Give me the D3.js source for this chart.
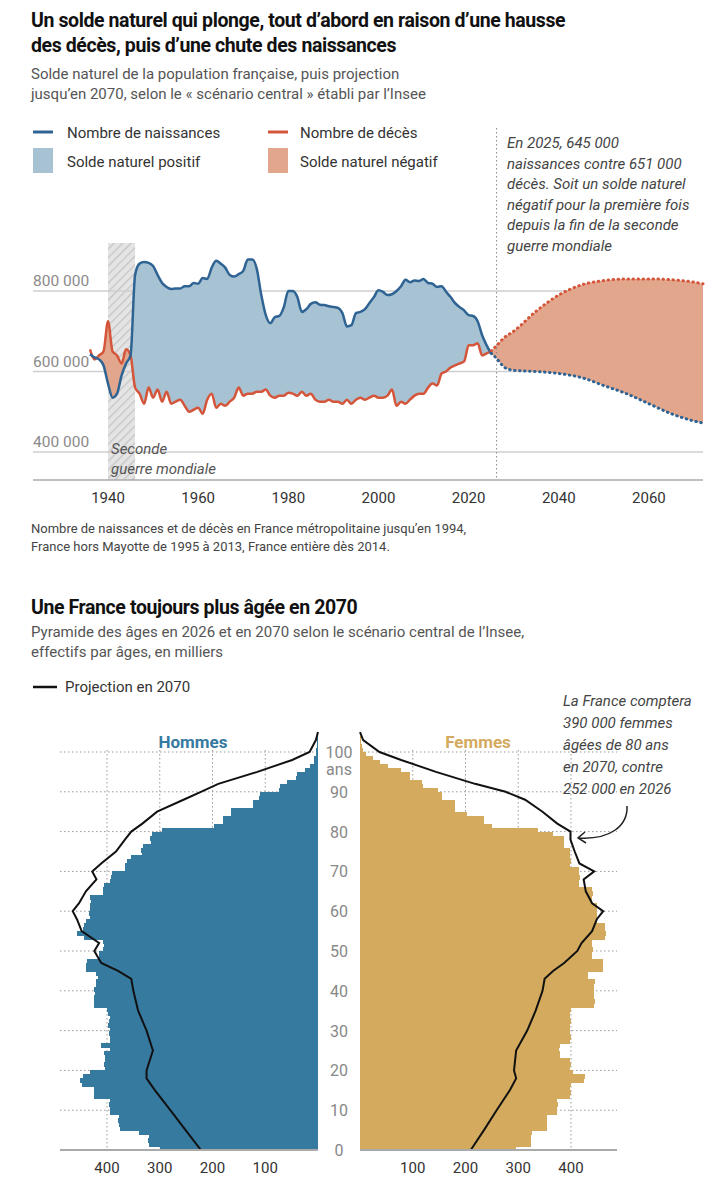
<!DOCTYPE html>
<html><head><meta charset="utf-8">
<script src="https://cdn.jsdelivr.net/npm/d3@7"></script>
<style>body{margin:0;background:#fff}svg{font-family:Roboto,"Noto Sans",sans-serif}</style>
</head><body><svg id="c" width="725" height="1200"></svg>
<script>
// ---------- Chart 1 data (thousands) ----------
const years = d3.range(1936, 2026);
const births = [643,635,630,615,570,535,545,590,620,640,840,868,872,870,862,840,820,810,805,806,806,812,812,820,818,832,830,858,875,868,858,840,836,842,850,878,878,855,790,740,720,735,738,760,800,800,785,748,755,768,772,766,765,762,760,758,745,712,715,745,748,755,770,785,802,798,790,792,800,812,828,822,826,825,830,820,818,810,812,798,785,770,760,752,740,738,725,690,665,645];
const deaths = [655,630,640,650,725,650,640,620,655,640,560,545,520,560,535,555,525,550,520,525,530,515,500,505,510,495,530,545,510,520,515,525,535,560,540,545,545,550,550,555,540,535,540,540,547,545,540,550,540,545,530,525,525,530,525,525,520,530,520,530,535,530,535,540,535,535,540,555,515,525,520,530,540,545,545,560,570,565,595,600,610,615,620,625,665,665,670,640,645,651];
const projYears = [2025,2026,2028,2030,2035,2040,2045,2050,2055,2060,2065,2070,2072];
const projBirths = [645,635,610,603,600,595,585,565,545,520,495,477,472];
const projDeaths = [651,662,685,700,750,790,815,826,830,830,828,822,818];
const yTicks1 = [400,600,800];
const xTicks1 = [1940,1960,1980,2000,2020,2040,2060];

// ---------- Pyramid data (thousands) ----------
const ages = d3.range(0, 106);
const men2026 = [300,320,322,320,340,375,378,380,378,395,395,396,395,424,425,424,448,452,445,432,403,405,403,403,405,395,411,395,395,397,395,398,396,395,398,400,424,425,424,422,424,420,420,418,420,440,440,438,415,415,407,405,407,444,457,446,444,440,432,434,432,432,430,432,407,408,405,395,393,390,366,366,362,354,333,335,332,317,318,315,296,198,181,181,165,164,123,123,111,110,74,72,58,41,40,25,16,8,7,4,3,2,1,1,0,0];
const women2026 = [296,325,325,324,326,354,354,355,354,374,374,375,374,399,400,399,400,424,426,403,399,400,399,379,379,378,379,399,400,399,398,399,400,399,399,400,444,445,444,443,444,444,445,432,432,461,461,460,440,440,441,440,440,465,466,465,464,449,449,450,449,449,440,440,441,440,416,416,417,416,416,399,400,399,399,398,387,387,386,366,337,251,235,235,202,181,181,180,156,155,148,119,118,95,94,78,53,37,25,12,6,3,2,1,0,0];
const projAges = [0,5,10,15,18,20,25,30,35,40,43,45,47,50,52,55,58,60,62,65,68,70,72,75,78,80,82,85,88,90,92,95,98,100,103,105];
const men2070 = [222,251,280,309,325,325,313,325,341,350,354,379,411,424,415,448,457,465,453,440,420,428,411,383,366,354,333,305,255,222,189,115,49,16,4,0];
const women2070 = [210,235,259,284,296,292,296,317,333,346,350,366,387,412,420,440,449,461,440,428,424,444,416,407,399,399,374,346,313,276,218,144,78,37,6,0];
const popTicks = [100,200,300,400];
const ageTicks = [0,10,20,30,40,50,60,70,80,90,100];

const svg = d3.select("#c");
const BLUE="#2e6393", RED="#d4553a", FBLUE="#a7c3d3", FRED="#e2a68c";
function txt(x,y,s,o={}){const t=svg.append("text").attr("x",x).attr("y",y).text(s)
 .attr("font-size",o.size||15).attr("fill",o.fill||"#444").attr("font-weight",o.weight||400)
 .attr("font-style",o.style||"normal").attr("text-anchor",o.anchor||"start");
 if(o.ls) t.attr("letter-spacing",o.ls); return t;}

// Titles
txt(31,27,"Un solde naturel qui plonge, tout d’abord en raison d’une hausse",{size:19.5,weight:700,fill:"#111",ls:-0.4});
txt(31,52,"des décès, puis d’une chute des naissances",{size:19.5,weight:700,fill:"#111",ls:-0.4});
txt(31,79,"Solde naturel de la population française, puis projection",{size:15,fill:"#555"});
txt(31,99,"jusqu’en 2070, selon le « scénario central » établi par l’Insee",{size:15,fill:"#555"});
// legend
svg.append("line").attr("x1",33).attr("x2",53).attr("y1",132).attr("y2",132).attr("stroke",BLUE).attr("stroke-width",3);
txt(67,138,"Nombre de naissances",{fill:"#333"});
svg.append("line").attr("x1",268).attr("x2",288).attr("y1",132).attr("y2",132).attr("stroke",RED).attr("stroke-width",3);
txt(300,138,"Nombre de décès",{fill:"#333"});
svg.append("rect").attr("x",33).attr("y",148).attr("width",20).attr("height",25).attr("fill",FBLUE);
txt(67,167,"Solde naturel positif",{fill:"#333"});
svg.append("rect").attr("x",268).attr("y",148).attr("width",20).attr("height",25).attr("fill",FRED);
txt(300,167,"Solde naturel négatif",{fill:"#333"});
["En 2025, 645 000","naissances contre 651 000","décès. Soit un solde naturel","négatif pour la première fois","depuis la fin de la seconde","guerre mondiale"]
 .forEach((s,i)=>txt(507,148+i*20.5,s,{style:"italic",fill:"#444"}));

// Chart 1
const x1 = d3.scaleLinear().domain([1936,2072]).range([90,703]);
const y1 = d3.scaleLinear().domain([400,800]).range([452,291]);
const defs = svg.append("defs");
const pat = defs.append("pattern").attr("id","hatch").attr("patternUnits","userSpaceOnUse").attr("width",6).attr("height",6).attr("patternTransform","rotate(45)");
pat.append("rect").attr("width",6).attr("height",6).attr("fill","#e4e4e4");
pat.append("line").attr("x1",0).attr("y1",0).attr("x2",0).attr("y2",6).attr("stroke","#c4c4c4").attr("stroke-width",2.5);
svg.append("rect").attr("x",x1(1940)).attr("y",243).attr("width",x1(1946)-x1(1940)).attr("height",480-243).attr("fill","url(#hatch)");
yTicks1.forEach(v=>{
  svg.append("line").attr("x1",33).attr("x2",703).attr("y1",y1(v)).attr("y2",y1(v)).attr("stroke","#cfcfcf").attr("stroke-width",1.3);
  txt(33,y1(v)-5,d3.format(",")(v*1000).replace(/,/g," "),{fill:"#8a8a8a",size:15.5});
});
const hist = years.map((y,i)=>({y,b:births[i],d:deaths[i]}));
const proj = projYears.map((y,i)=>({y,b:projBirths[i],d:projDeaths[i]}));
const all = hist.concat(proj.slice(1));
const areaPos = d3.area().x(d=>x1(d.y)).y0(d=>y1(d.d)).y1(d=>y1(Math.max(d.b,d.d))).curve(d3.curveMonotoneX);
const areaNeg = d3.area().x(d=>x1(d.y)).y0(d=>y1(d.b)).y1(d=>y1(Math.max(d.b,d.d))).curve(d3.curveMonotoneX);
svg.append("path").attr("d",areaPos(all)).attr("fill",FBLUE);
svg.append("path").attr("d",areaNeg(all)).attr("fill",FRED);
const lb = d3.line().x(d=>x1(d.y)).y(d=>y1(d.b)).curve(d3.curveMonotoneX);
const ld = d3.line().x(d=>x1(d.y)).y(d=>y1(d.d)).curve(d3.curveMonotoneX);
svg.append("path").attr("d",ld(hist)).attr("fill","none").attr("stroke",RED).attr("stroke-width",2.5);
svg.append("path").attr("d",lb(hist)).attr("fill","none").attr("stroke",BLUE).attr("stroke-width",2.5);
svg.append("path").attr("d",ld(proj)).attr("fill","none").attr("stroke",RED).attr("stroke-width",3).attr("stroke-dasharray","0.5,4.5").attr("stroke-linecap","round");
svg.append("path").attr("d",lb(proj)).attr("fill","none").attr("stroke",BLUE).attr("stroke-width",3).attr("stroke-dasharray","0.5,4.5").attr("stroke-linecap","round");
svg.append("line").attr("x1",x1(2026.2)).attr("x2",x1(2026.2)).attr("y1",128).attr("y2",480).attr("stroke","#888").attr("stroke-width",1).attr("stroke-dasharray","1.5,2.5");
svg.append("line").attr("x1",33).attr("x2",703).attr("y1",480).attr("y2",480).attr("stroke","#aaa").attr("stroke-width",1.5);
txt(111,454,"Seconde",{style:"italic",fill:"#555"});
txt(111,474,"guerre mondiale",{style:"italic",fill:"#555"});
xTicks1.forEach(v=>txt(x1(v),503,v,{anchor:"middle",fill:"#333",size:15}));
txt(31,533,"Nombre de naissances et de décès en France métropolitaine jusqu’en 1994,",{size:13,fill:"#444"});
txt(31,551,"France hors Mayotte de 1995 à 2013, France entière dès 2014.",{size:13,fill:"#444"});

// Chart 2
txt(31,614,"Une France toujours plus âgée en 2070",{size:19.5,weight:700,fill:"#111",ls:-0.4});
txt(31,637,"Pyramide des âges en 2026 et en 2070 selon le scénario central de l’Insee,",{size:15,fill:"#555"});
txt(31,657,"effectifs par âges, en milliers",{size:15,fill:"#555"});
svg.append("line").attr("x1",33).attr("x2",57).attr("y1",687).attr("y2",687).attr("stroke","#111").attr("stroke-width",2.5);
txt(65,692,"Projection en 2070",{fill:"#333"});

const ya = d3.scaleLinear().domain([0,100]).range([1150,752]);
const xm = d3.scaleLinear().domain([0,400]).range([318,107]);
const xw = d3.scaleLinear().domain([0,400]).range([360,571]);
// grid
ageTicks.forEach(a=>{ if(a===0) return;
  svg.append("line").attr("x1",60).attr("x2",318).attr("y1",ya(a)).attr("y2",ya(a)).attr("stroke","#999").attr("stroke-dasharray","1.5,2.5");
  svg.append("line").attr("x1",360).attr("x2",617).attr("y1",ya(a)).attr("y2",ya(a)).attr("stroke","#999").attr("stroke-dasharray","1.5,2.5");
});
popTicks.forEach(v=>{
  svg.append("line").attr("x1",xm(v)).attr("x2",xm(v)).attr("y1",750).attr("y2",1150).attr("stroke","#999").attr("stroke-dasharray","1.5,2.5");
  svg.append("line").attr("x1",xw(v)).attr("x2",xw(v)).attr("y1",750).attr("y2",1150).attr("stroke","#999").attr("stroke-dasharray","1.5,2.5");
});
const MC="#367aa0", WC="#d3aa5e";
svg.append("g").attr("shape-rendering","crispEdges").selectAll("rect").data(ages).join("rect")
 .attr("x",a=>xm(men2026[a])).attr("width",a=>xm(0)-xm(men2026[a]))
 .attr("y",a=>ya(a+1)).attr("height",a=>ya(a)-ya(a+1)+1).attr("fill",MC);
svg.append("g").attr("shape-rendering","crispEdges").selectAll("rect").data(ages).join("rect")
 .attr("x",xw(0)).attr("width",a=>xw(women2026[a])-xw(0))
 .attr("y",a=>ya(a+1)).attr("height",a=>ya(a)-ya(a+1)+1).attr("fill",WC);
const lm = d3.line().x((d,i)=>xm(men2070[i])).y(d=>ya(d));
const lw = d3.line().x((d,i)=>xw(women2070[i])).y(d=>ya(d));
svg.append("path").attr("d",lm(projAges)).attr("fill","none").attr("stroke","#111").attr("stroke-width",2);
svg.append("path").attr("d",lw(projAges)).attr("fill","none").attr("stroke","#111").attr("stroke-width",2);
svg.append("line").attr("x1",60).attr("x2",318).attr("y1",1150).attr("y2",1150).attr("stroke","#aaa").attr("stroke-width",2);
svg.append("line").attr("x1",360).attr("x2",617).attr("y1",1150).attr("y2",1150).attr("stroke","#aaa").attr("stroke-width",2);
ageTicks.forEach(a=>txt(339,ya(a)+6,a,{anchor:"middle",fill:"#888",size:16}));
txt(339,775,"ans",{anchor:"middle",fill:"#888",size:16});
popTicks.forEach(v=>{txt(xm(v),1173,v,{anchor:"middle",fill:"#333"});txt(xw(v),1173,v,{anchor:"middle",fill:"#333"});});
txt(193,748,"Hommes",{anchor:"middle",weight:700,fill:MC,size:17});
txt(478,748,"Femmes",{anchor:"middle",weight:700,fill:WC,size:17});
["La France comptera","390 000 femmes","âgées de 80 ans","en 2070, contre","252 000 en 2026"].forEach((s,i)=>txt(563,706+i*22,s,{style:"italic",fill:"#444"}));
svg.append("path").attr("d","M627,806 C628,826 610,840 578,838").attr("fill","none").attr("stroke","#222").attr("stroke-width",1.5);
svg.append("path").attr("d","M585,832 L578,838 L586,843").attr("fill","none").attr("stroke","#222").attr("stroke-width",1.5);
</script></body></html>
